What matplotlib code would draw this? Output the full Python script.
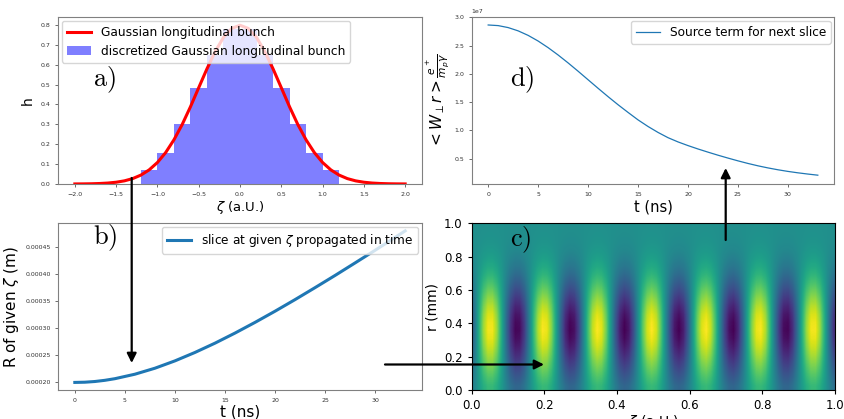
import numpy as np
import matplotlib.pyplot as plt

plt.rcParams['mathtext.fontset'] = 'dejavusans'

# a) gaussian bunch and its discretisation
zeta_curve = [-2.0, -1.9, -1.8, -1.7, -1.6, -1.5, -1.4, -1.3, -1.2, -1.1, -1.0,
              -0.9, -0.8, -0.7, -0.6, -0.5, -0.4, -0.3, -0.2, -0.1, 0.0,
              0.1, 0.2, 0.3, 0.4, 0.5, 0.6, 0.7, 0.8, 0.9, 1.0,
              1.1, 1.2, 1.3, 1.4, 1.5, 1.6, 1.7, 1.8, 1.9, 2.0]
h_curve = [0.0003, 0.0006, 0.0012, 0.0025, 0.0048, 0.0089, 0.0158, 0.0271, 0.0448, 0.0709, 0.108,
           0.158, 0.222, 0.299, 0.388, 0.484, 0.579, 0.666, 0.737, 0.782, 0.798,
           0.782, 0.737, 0.666, 0.579, 0.484, 0.388, 0.299, 0.222, 0.158, 0.108,
           0.0709, 0.0448, 0.0271, 0.0158, 0.0089, 0.0048, 0.0025, 0.0012, 0.0006, 0.0003]
bin_left = [-1.2, -1.0, -0.8, -0.6, -0.4, -0.2, 0.0, 0.2, 0.4, 0.6, 0.8, 1.0]
bin_height = [0.07, 0.157, 0.30, 0.484, 0.648, 0.777, 0.777, 0.648, 0.484, 0.30, 0.157, 0.07]

# b) radius of one slice vs time
t_b = [0, 1, 2, 3, 4, 6, 8, 10, 12, 14, 16, 18, 20, 22, 24, 26, 28, 30, 32, 33]
R_b = [0.0002, 0.0002004, 0.0002017, 0.0002039, 0.0002069, 0.0002152, 0.0002263,
       0.0002399, 0.0002555, 0.0002727, 0.0002914, 0.0003112, 0.0003319, 0.0003534,
       0.0003756, 0.0003982, 0.0004214, 0.0004448, 0.0004687, 0.0004807]

# d) source term vs time (units of 1e7)
t_d = list(range(0, 34))
src_d = [2.864, 2.853, 2.818, 2.760, 2.680, 2.580, 2.463, 2.333, 2.193, 2.046,
         1.895, 1.744, 1.596, 1.453, 1.317, 1.185, 1.068, 0.963, 0.870, 0.795,
         0.730, 0.670, 0.614, 0.560, 0.509, 0.460, 0.414, 0.372, 0.335, 0.302,
         0.273, 0.248, 0.226, 0.206]

# c) field map: column (zeta) profile and radial envelope
zeta_wave = [-0.284, 0.240, 0.698, 0.965, 0.965, 0.701, 0.244, -0.281, -0.729, -0.975,
             -0.953, -0.669, -0.201, 0.322, 0.757, 0.984, 0.940, 0.638, 0.160, -0.362,
             -0.785, -0.991, -0.924, -0.603, -0.117, 0.402, 0.810, 0.995, 0.907, 0.569,
             0.075, -0.441, -0.835, -0.999, -0.888, -0.533, -0.031, 0.479, 0.857, 1.000,
             0.868, 0.497, -0.012, -0.517, -0.879, -0.999, -0.845, -0.457, 0.056, 0.553,
             0.899, 0.997, 0.821, 0.418, -0.099, -0.589, -0.917, -0.993, -0.794, -0.378,
             0.143, 0.624, 0.934, 0.986, 0.767, 0.337, -0.187, -0.659, -0.949, -0.978,
             -0.738, -0.294, 0.230, 0.691, 0.962, 0.968, 0.709, 0.252, -0.272, -0.722]
r_env = [0.35, 0.45, 0.56, 0.67, 0.78, 0.88, 0.96, 1.0, 0.98, 0.92, 0.82,
         0.70, 0.57, 0.44, 0.32, 0.22, 0.14, 0.08, 0.04, 0.02, 0.01]

W, H = 844, 419
fig = plt.figure(figsize=(W / 100, H / 100), dpi=100)


def box(l, t, r, b):
    return [l / W, 1 - b / H, (r - l) / W, (b - t) / H]


def grey_frame(ax):
    for s in ax.spines.values():
        s.set_color('#808080')
        s.set_linewidth(0.8)
    ax.tick_params(labelsize=4.5, length=2, width=0.5, colors='#333333')


def tag(ax, txt, x, y):
    fig.text(x / W, 1 - y / H, r'$\mathrm{%s)}$' % txt, fontsize=19,
             math_fontfamily='cm', va='center', ha='left')


# panel a
axa = fig.add_axes(box(58.3, 17.3, 421.7, 184))
axa.bar(bin_left, bin_height, width=0.2, align='edge', color='blue', alpha=0.5,
        label='discretized Gaussian longitudinal bunch')
axa.plot(zeta_curve, h_curve, color='red', lw=2.2, label='Gaussian longitudinal bunch')
axa.set_xticks([-2.0, -1.5, -1.0, -0.5, 0.0, 0.5, 1.0, 1.5, 2.0])
axa.set_xlabel(r'$\zeta$ (a.U.)', fontsize=9.5, labelpad=2)
axa.set_ylabel('h', fontsize=10, labelpad=4)
grey_frame(axa)
axa.legend(loc='upper left', fontsize=8.8, borderaxespad=0.3, handlelength=2)
tag(axa, 'a', 93, 80)

# panel d
axd = fig.add_axes(box(471.7, 17.3, 834.3, 184))
axd.plot(t_d, np.array(src_d) * 1e7, color='#1f77b4', lw=0.9, label='Source term for next slice')
axd.set_xticks([0, 5, 10, 15, 20, 25, 30])
axd.set_yticks([0.5e7, 1.0e7, 1.5e7, 2.0e7, 2.5e7, 3.0e7])
axd.set_ylim(0.05e7, 3.0e7)
axd.set_xlabel('t (ns)', fontsize=10.5, labelpad=2)
axd.set_ylabel(r'$<W_{\perp}r>\frac{e^+}{m_p\gamma}$', fontsize=11, labelpad=2)
grey_frame(axd)
axd.yaxis.get_offset_text().set_fontsize(4.5)
axd.legend(loc='upper right', fontsize=8.7, borderaxespad=0.3)
tag(axd, 'd', 510, 80)

# panel b
axb = fig.add_axes(box(58.3, 223.3, 421.7, 390))
axb.plot(t_b, R_b, color='#1f77b4', lw=2.2, label=r'slice at given $\zeta$ propagated in time')
axb.set_xticks([0, 5, 10, 15, 20, 25, 30])
axb.set_yticks([0.0002, 0.00025, 0.0003, 0.00035, 0.0004, 0.00045])
axb.set_yticklabels(['0.00020', '0.00025', '0.00030', '0.00035', '0.00040', '0.00045'])
axb.set_xlabel('t (ns)', fontsize=11, labelpad=1)
axb.set_ylabel(r'R of given $\zeta$ (m)', fontsize=11, labelpad=3)
grey_frame(axb)
axb.legend(loc='upper right', fontsize=8.7, borderaxespad=0.3)
tag(axb, 'b', 93, 238)

# panel c
axc = fig.add_axes(box(471.7, 223.3, 835, 390))
field = np.outer(r_env, zeta_wave)
axc.imshow(field, origin='lower', extent=[0, 1, 0, 1], aspect='auto',
           cmap='viridis', vmin=-1, vmax=1, interpolation='bilinear')
axc.set_xticks([0.0, 0.2, 0.4, 0.6, 0.8, 1.0])
axc.set_yticks([0.0, 0.2, 0.4, 0.6, 0.8, 1.0])
axc.tick_params(labelsize=8.5, length=3)
axc.set_xlabel(r'$\zeta$ (a.U.)', fontsize=10, labelpad=1)
axc.set_ylabel('r (mm)', fontsize=10, labelpad=3)
tag(axc, 'c', 510, 240)

# arrows linking the panels
arrows = [((131.7, 178), (131.7, 363)), ((385, 364.5), (544, 364.5)), ((725.7, 240), (725.7, 168))]
for (x0, y0), (x1, y1) in arrows:
    fig.patches.append(plt.matplotlib.patches.FancyArrowPatch(
        (x0 / W, 1 - y0 / H), (x1 / W, 1 - y1 / H), transform=fig.transFigure,
        arrowstyle='-|>', mutation_scale=14, lw=1.6, color='black', shrinkA=0, shrinkB=0))

fig.savefig('out.png', dpi=100)
